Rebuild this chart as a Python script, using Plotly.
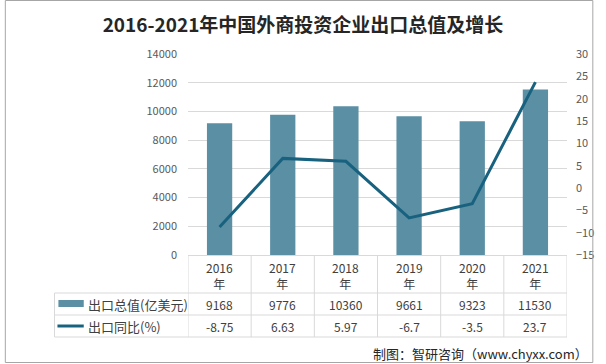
import plotly.graph_objects as go

years = ["2016年", "2017年", "2018年", "2019年", "2020年", "2021年"]
year_labels = ["2016", "2017", "2018", "2019", "2020", "2021"]
export_value = [9168, 9776, 10360, 9661, 9323, 11530]
export_yoy = [-8.75, 6.63, 5.97, -6.7, -3.5, 23.7]
value_text = ["9168", "9776", "10360", "9661", "9323", "11530"]
yoy_text = ["-8.75", "6.63", "5.97", "-6.7", "-3.5", "23.7"]
series_names = ["出口总值(亿美元)", "出口同比(%)"]

W, H = 606, 364
L, R, T, B = 188, 577, 54, 255
BAR_C = "#5b8fa4"
LINE_C = "#19627f"
GRID_C = "#d9d9d9"
FONT = "Noto Sans CJK SC"
TXT_C = "#404040"


def px(x):
    return (x - L) / (R - L)


def py(y):
    return (B - y) / (B - T)


fig = go.Figure()
fig.add_trace(go.Bar(x=years, y=export_value, marker_color=BAR_C,
                     marker_line_width=0, name=series_names[0], showlegend=False))
fig.add_trace(go.Scatter(x=years, y=export_yoy, yaxis="y2", mode="lines",
                         line=dict(color=LINE_C, width=3), name=series_names[1],
                         showlegend=False))

shapes = []
# table vertical lines
for i in range(len(years) + 1):
    shapes.append(dict(type="line", xref="x", yref="paper", x0=i - 0.5, x1=i - 0.5,
                       y0=py(255), y1=py(337), line=dict(color=GRID_C, width=1)))
shapes.append(dict(type="line", xref="paper", yref="paper", x0=px(51), x1=px(51),
                   y0=py(293), y1=py(337), line=dict(color=GRID_C, width=1)))
for yy in (293, 315, 337):
    shapes.append(dict(type="line", xref="paper", yref="paper", x0=px(51), x1=1,
                       y0=py(yy), y1=py(yy), line=dict(color=GRID_C, width=1)))
# legend keys
shapes.append(dict(type="rect", xref="paper", yref="paper", x0=px(55), x1=px(81),
                   y0=py(307), y1=py(300), fillcolor=BAR_C, line=dict(width=0)))
shapes.append(dict(type="line", xref="paper", yref="paper", x0=px(54), x1=px(81),
                   y0=py(326), y1=py(326), line=dict(color=LINE_C, width=3)))
# outer border
shapes.append(dict(type="rect", xref="paper", yref="paper", x0=px(0.5), x1=px(603.5),
                   y0=py(0.5), y1=py(362.5), line=dict(color="#a6a6a6", width=1)))

ann = []
for i, yr in enumerate(years):
    ann.append(dict(x=yr, xref="x", y=py(275.5), yref="paper", text=f"{year_labels[i]}<br>年",
                    showarrow=False, font=dict(family=FONT, size=12, color=TXT_C),
                    xanchor="center", yanchor="middle"))
    ann.append(dict(x=yr, xref="x", y=py(304.5), yref="paper", text=value_text[i],
                    showarrow=False, font=dict(family=FONT, size=12, color=TXT_C),
                    xanchor="center", yanchor="middle"))
    ann.append(dict(x=yr, xref="x", y=py(326.5), yref="paper", text=yoy_text[i],
                    showarrow=False, font=dict(family=FONT, size=12, color=TXT_C),
                    xanchor="center", yanchor="middle"))
ann.append(dict(x=px(83), xref="paper", y=py(304.5), yref="paper", text=series_names[0],
                showarrow=False, font=dict(family=FONT, size=13, color=TXT_C),
                xanchor="left", yanchor="middle"))
ann.append(dict(x=px(83), xref="paper", y=py(326.5), yref="paper", text=series_names[1],
                showarrow=False, font=dict(family=FONT, size=13, color=TXT_C),
                xanchor="left", yanchor="middle"))
ann.append(dict(x=px(601), xref="paper", y=py(353), yref="paper",
                text="制图：智研咨询（www.chyxx.com）",
                showarrow=False, font=dict(family=FONT, size=13, color="#262626"),
                xanchor="right", yanchor="middle"))

fig.update_layout(
    width=W, height=H,
    margin=dict(l=L, r=W - R, t=T, b=H - B, pad=0),
    paper_bgcolor="white", plot_bgcolor="white",
    title=dict(text="<b>2016-2021年中国外商投资企业出口总值及增长</b>",
               x=0.5, xref="container", xanchor="center",
               y=1 - 25 / H, yref="container", yanchor="middle",
               font=dict(family=FONT, size=19, color="#262626")),
    bargap=0.6,
    xaxis=dict(type="category", range=[-0.5, 5.5], showticklabels=False,
               showline=True, linecolor=GRID_C, linewidth=1, showgrid=False,
               ticks=""),
    yaxis=dict(range=[0, 14000], dtick=2000, showgrid=True, gridcolor=GRID_C,
               zeroline=False, showline=False, ticks="", ticklabelstandoff=10,
               tickformat="d",
               tickfont=dict(family=FONT, size=11, color="#595959")),
    yaxis2=dict(range=[-15, 30], dtick=5, overlaying="y", side="right",
                showgrid=False, zeroline=False, showline=False, ticks="",
                ticklabelstandoff=8, tickformat="d",
                tickfont=dict(family=FONT, size=11, color="#595959")),
    shapes=shapes,
    annotations=ann,
)

fig.write_html("out.html", config={"displayModeBar": False},
               post_script="document.body.style.margin='0';")
